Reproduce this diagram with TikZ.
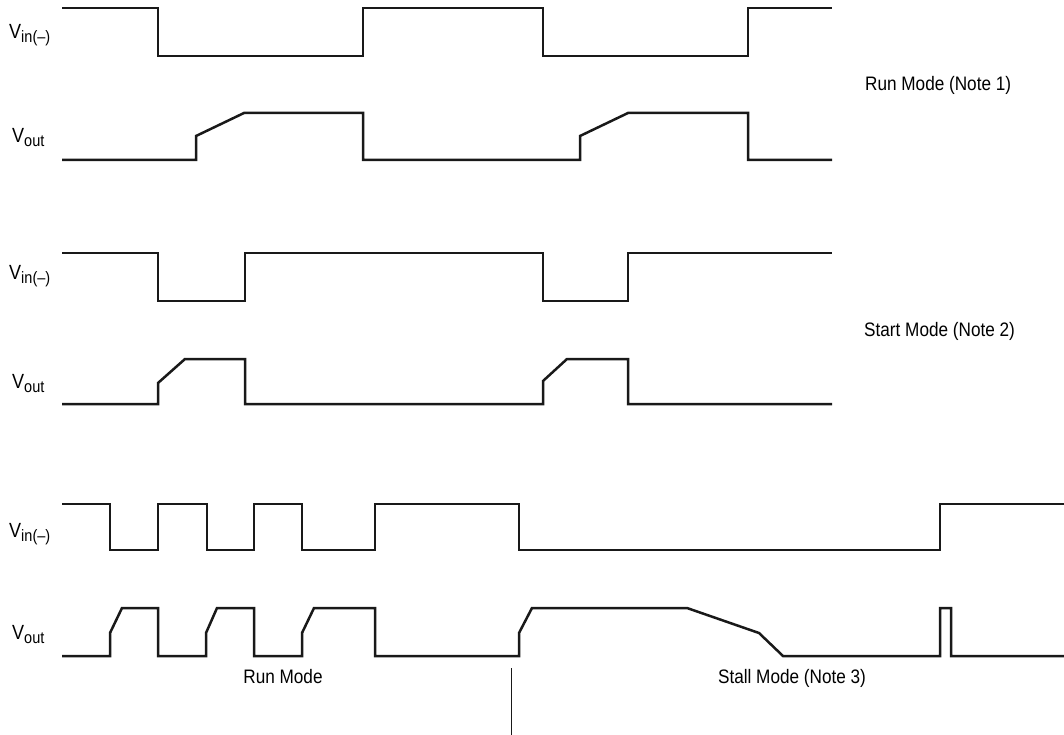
\documentclass[tikz,border=0pt]{standalone}
\usepackage{fontspec}
\setmainfont{Liberation Sans}[FakeStretch=0.88]
\newcommand\sigl[2]{#1\raisebox{-4pt}{\fontsize{16.5}{16.5}\selectfont #2}}
\begin{document}
\begin{tikzpicture}[x=1pt,y=-1pt,
  wave/.style={line width=2.5pt,line join=miter,line cap=butt,black!90},
  lbl/.style={anchor=base west,inner sep=0pt,font=\fontsize{20.5}{21}\selectfont},
  note/.style={anchor=base west,inner sep=0pt,font=\fontsize{19.5}{20}\selectfont},
  divider/.style={line width=1pt,black!90}]
\useasboundingbox (0,0) rectangle (1064,735);
% labels
\node[lbl] (vin1) at (9,39) {\sigl{V}{in(--)}};
\node[lbl] (vout1) at (12,143) {\sigl{V}{out}};
\node[lbl] (vin2) at (9,279) {\sigl{V}{in(--)}};
\node[lbl] (vout2) at (12,388) {\sigl{V}{out}};
\node[lbl] (vin3) at (9,537) {\sigl{V}{in(--)}};
\node[lbl] (vout3) at (12,639) {\sigl{V}{out}};
\node[note] (run1) at (865,91) {Run Mode (Note 1)};
\node[note] (start2) at (864,336) {Start Mode (Note 2)};
\node[note,anchor=base] (runm) at (283,683) {Run Mode};
\node[note,anchor=base] (stall) at (792,683) {Stall Mode (Note 3)};
% row 1
\draw[wave] (62,8)--(158,8)--(158,56)--(363,56)--(363,8)--(543,8)--(543,56)--(748,56)--(748,8)--(832,8);
\draw[wave] (62,160)--(196,160)--(196,136)--(244,113)--(363,113)--(363,160)--(580,160)--(580,136)--(628,113)--(748,113)--(748,160)--(832,160);
% row 2
\draw[wave] (62,253)--(158,253)--(158,301)--(245,301)--(245,253)--(543,253)--(543,301)--(628,301)--(628,253)--(832,253);
\draw[wave] (62,404)--(158,404)--(158,383)--(185,359)--(245,359)--(245,404)--(543,404)--(543,381)--(567,359)--(628,359)--(628,404)--(832,404);
% row 3
\draw[wave] (62,504)--(110,504)--(110,550)--(158,550)--(158,504)--(207,504)--(207,550)--(254,550)--(254,504)--(302,504)--(302,550)--(375,550)--(375,504)--(519,504)--(519,550)--(940,550)--(940,504)--(1064,504);
\draw[wave] (62,656)--(110,656)--(110,633)--(122,608)--(158,608)--(158,656)--(206,656)--(206,633)--(217,608)--(254,608)--(254,656)--(302,656)--(302,633)--(314,608)--(375,608)--(375,656)--(519,656)--(519,633)--(532,608)--(687,608)--(759,633)--(783,656)--(940,656)--(940,608)--(951,608)--(951,656)--(1064,656);
% divider
\draw[divider] (511,668)--(511,735);
\end{tikzpicture}
\end{document}
